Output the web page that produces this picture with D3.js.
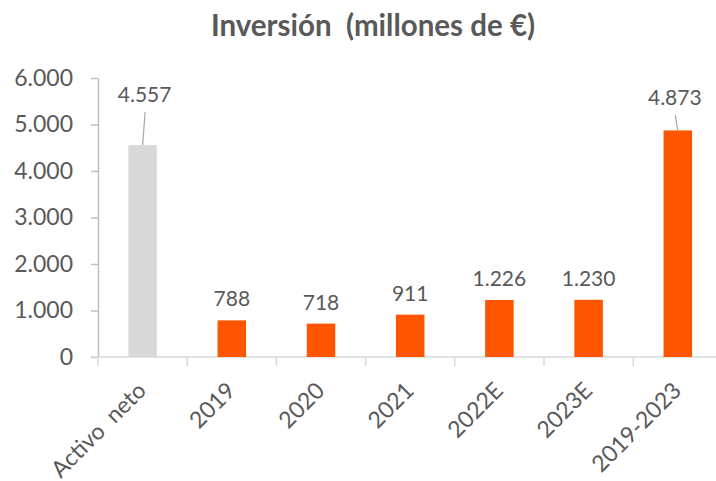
<!DOCTYPE html>
<html>
<head>
<meta charset="utf-8">
<script src="https://cdn.jsdelivr.net/npm/d3@7"></script>
<style>
  body { margin: 0; background: #fff; }
  text { font-family: Lato, "Open Sans", sans-serif; fill: #595959; white-space: pre; }
</style>
</head>
<body>
<div id="chart"></div>
<script>
// data
var categories = ["Activo  neto", "2019", "2020", "2021", "2022E", "2023E", "2019-2023"];
var values = [4557, 788, 718, 911, 1226, 1230, 4873];
var barColors = ["#d9d9d9", "#ff5500", "#ff5500", "#ff5500", "#ff5500", "#ff5500", "#ff5500"];
var yTicks = [0, 1000, 2000, 3000, 4000, 5000, 6000];
var title = "Inversión  (millones de €)";

var W = 716, H = 481;
var plotLeft = 98, plotBottom = 357, plotTop = 78;

var es = d3.formatLocale({decimal: ",", thousands: ".", grouping: [3], currency: ["", " €"]});
var fmt = es.format(",d");

var svg = d3.select("#chart").append("svg")
    .attr("width", W)
    .attr("height", H);

var x = d3.scaleBand()
    .domain(categories)
    .range([plotLeft, plotLeft + 7 * 89.2])
    .padding(0);

var y = d3.scaleLinear()
    .domain([0, 6000])
    .range([plotBottom, plotTop]);

var bw = 28.5;

// title
svg.append("text")
    .attr("x", 373)
    .attr("y", 36)
    .attr("text-anchor", "middle")
    .style("font-size", "29.5px")
    .style("font-weight", "bold")
    .text(title);

// y axis
var yAxis = svg.append("g")
    .attr("transform", "translate(" + plotLeft + ",0)")
    .call(d3.axisLeft(y).tickValues(yTicks).tickSize(7).tickSizeOuter(0).tickFormat(fmt));
yAxis.select(".domain").attr("stroke", "#bfbfbf").attr("stroke-width", 1.5);
yAxis.selectAll(".tick line").attr("stroke", "#bfbfbf").attr("stroke-width", 1.5);
yAxis.selectAll(".tick text")
    .attr("x", -25)
    .attr("font-family", null)
    .attr("font-size", null)
    .style("font-size", "23px")
    .style("fill", "#595959");

// x axis line and ticks between categories
var xAxis = svg.append("g");
xAxis.append("line")
    .attr("x1", plotLeft - 7).attr("x2", W)
    .attr("y1", plotBottom).attr("y2", plotBottom)
    .attr("stroke", "#d9d9d9").attr("stroke-width", 1.5);
xAxis.selectAll(".xt")
    .data(categories)
  .enter().append("line")
    .attr("class", "xt")
    .attr("x1", function(d) { return x(d); })
    .attr("x2", function(d) { return x(d); })
    .attr("y1", plotBottom).attr("y2", plotBottom + 9)
    .attr("stroke", "#d9d9d9").attr("stroke-width", 1.5);

// category labels, rotated
xAxis.selectAll(".xl")
    .data(categories)
  .enter().append("text")
    .attr("class", "xl")
    .attr("text-anchor", "end")
    .attr("transform", function(d) {
      return "translate(" + (x(d) + x.bandwidth() / 2 + 5) + "," + (plotBottom + 35) + ") rotate(-45)";
    })
    .style("font-size", "23px")
    .text(function(d) { return d; });

// bars
svg.selectAll(".bar")
    .data(values)
  .enter().append("rect")
    .attr("class", "bar")
    .attr("x", function(d, i) { return x(categories[i]) + (x.bandwidth() - bw) / 2; })
    .attr("width", bw)
    .attr("y", function(d) { return y(d); })
    .attr("height", function(d) { return plotBottom - y(d); })
    .attr("fill", function(d, i) { return barColors[i]; });

// labels; the two tall bars get a label lifted with a leader line
function lifted(d) { return d > 4000; }

svg.selectAll(".lead")
    .data(values.filter(lifted))
  .enter().append("line")
    .attr("class", "lead")
    .attr("x1", function(d) { return x(categories[values.indexOf(d)]) + x.bandwidth() / 2; })
    .attr("y1", function(d) { return y(d); })
    .attr("x2", function(d) { return x(categories[values.indexOf(d)]) + x.bandwidth() / 2 + (d < 4700 ? 2.5 : -2.5); })
    .attr("y2", function(d) { return y(d) - (d < 4700 ? 33 : 15); })
    .attr("stroke", "#a6a6a6")
    .attr("stroke-width", 1.2);

svg.selectAll(".lab")
    .data(values)
  .enter().append("text")
    .attr("class", "lab")
    .attr("text-anchor", "middle")
    .attr("x", function(d, i) {
      var cx = x(categories[i]) + x.bandwidth() / 2;
      return lifted(d) ? cx + (d < 4700 ? 2 : -3) : cx;
    })
    .attr("y", function(d) { return lifted(d) ? (d < 4700 ? 102 : 105) : y(d) - 14; })
    .style("font-size", "21px")
    .text(function(d) { return fmt(d); });
</script>
</body>
</html>
